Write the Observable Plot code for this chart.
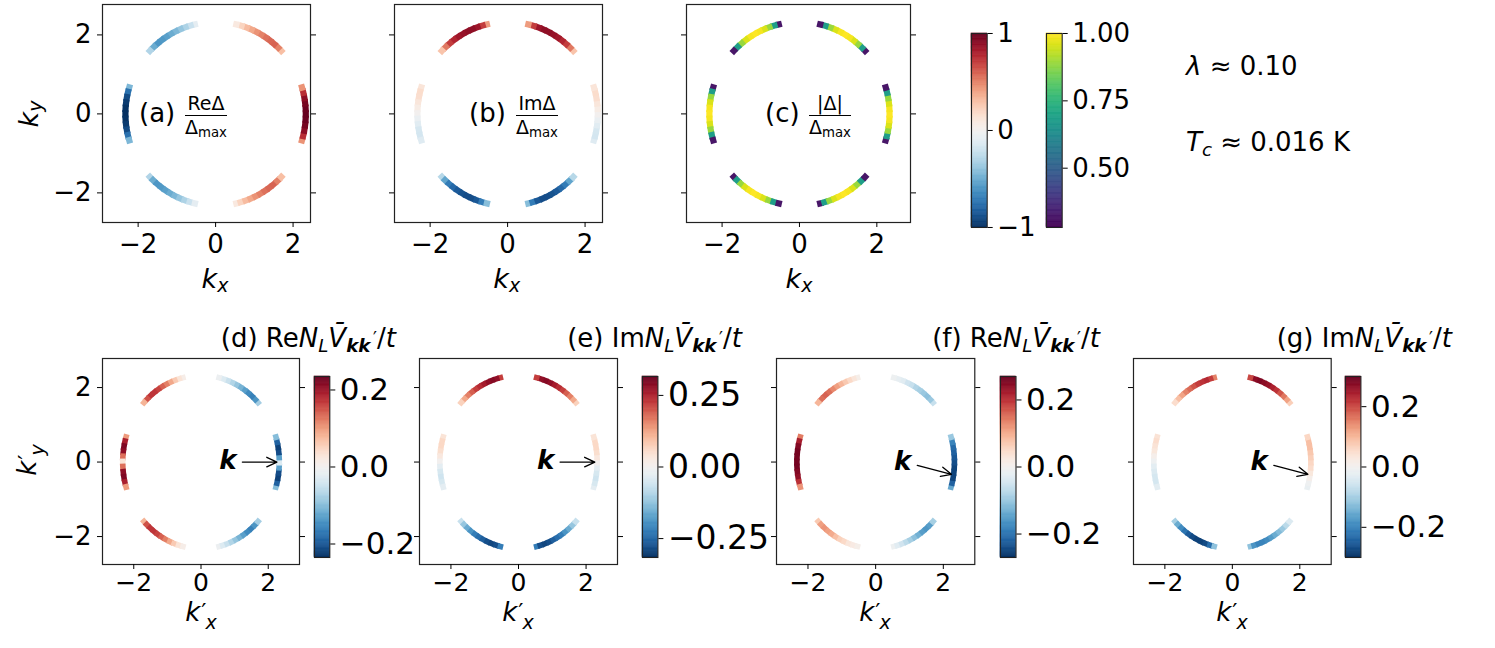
<!DOCTYPE html>
<html><head><meta charset="utf-8">
<script src="https://cdn.jsdelivr.net/npm/d3@7"></script>
<script src="https://cdn.jsdelivr.net/npm/@observablehq/plot@0.6"></script>
<style>
body{margin:0;background:#fff;}
#fig{position:relative;width:1495px;height:648px;overflow:hidden;font-family:"DejaVu Sans",sans-serif;color:#000;background:#fff;}
.abs{position:absolute;white-space:nowrap;line-height:1;}
.abs svg{display:block;overflow:visible;}
sub{font-size:0.7em;vertical-align:-0.25em;line-height:0;}
.pr{font-size:0.95em;vertical-align:0.45em;line-height:0;margin-left:0.16em;}
.frac{position:absolute;display:flex;flex-direction:column;align-items:center;font-size:19px;}
.frac span.n,.frac span.d{line-height:19px;white-space:nowrap;}
.frac span.bar{height:1.3px;background:#000;align-self:stretch;margin:2px 0;}
</style></head><body><div id="fig"></div><script>
// ---------- data ----------
const arcCenters = [0, 60, 120, 180, 240, 300];           // degrees
const sampleOffsets = [-17, -13.6, -10.2, -6.8, -3.4, 0, 3.4, 6.8, 10.2, 13.6, 17];
const fermiRadius = 2.33;
const axisTicks = [-2, 0, 2];

const reDelta = [
  [0.45,0.75,0.90,0.96,0.99,1.00,0.99,0.96,0.90,0.75,0.45],
  [0.30,0.50,0.59,0.58,0.55,0.50,0.45,0.38,0.31,0.21,0.09],
  [-0.09,-0.21,-0.31,-0.38,-0.45,-0.50,-0.55,-0.58,-0.59,-0.50,-0.30],
  [-0.45,-0.75,-0.90,-0.96,-0.99,-1.00,-0.99,-0.96,-0.90,-0.75,-0.45],
  [-0.30,-0.50,-0.59,-0.58,-0.55,-0.50,-0.45,-0.38,-0.31,-0.21,-0.09],
  [0.09,0.21,0.31,0.38,0.45,0.50,0.55,0.58,0.59,0.50,0.30]
];
const imDelta = [
  [-0.12,-0.17,-0.16,-0.11,-0.06,0.00,0.06,0.11,0.16,0.17,0.12],
  [0.28,0.53,0.70,0.78,0.84,0.87,0.89,0.89,0.85,0.70,0.42],
  [0.42,0.70,0.85,0.89,0.89,0.87,0.84,0.78,0.70,0.53,0.28],
  [0.12,0.17,0.16,0.11,0.06,0.00,-0.06,-0.11,-0.16,-0.17,-0.12],
  [-0.28,-0.53,-0.70,-0.78,-0.84,-0.87,-0.89,-0.89,-0.85,-0.70,-0.42],
  [-0.42,-0.70,-0.85,-0.89,-0.89,-0.87,-0.84,-0.78,-0.70,-0.53,-0.28]
];
const absDelta = [
  [0.32,0.68,0.89,0.96,0.99,1.00,0.99,0.96,0.89,0.68,0.32],
  [0.32,0.68,0.89,0.96,0.99,1.00,0.99,0.96,0.89,0.68,0.32],
  [0.32,0.68,0.89,0.96,0.99,1.00,0.99,0.96,0.89,0.68,0.32],
  [0.32,0.68,0.89,0.96,0.99,1.00,0.99,0.96,0.89,0.68,0.32],
  [0.32,0.68,0.89,0.96,0.99,1.00,0.99,0.96,0.89,0.68,0.32],
  [0.32,0.68,0.89,0.96,0.99,1.00,0.99,0.96,0.89,0.68,0.32]
];
const reV_d = [
  [-0.10,-0.19,-0.22,-0.21,-0.13,-0.03,-0.13,-0.21,-0.22,-0.19,-0.10],
  [-0.08,-0.14,-0.16,-0.15,-0.13,-0.11,-0.09,-0.07,-0.05,-0.03,-0.01],
  [0.01,0.03,0.06,0.09,0.12,0.14,0.16,0.17,0.17,0.15,0.08],
  [0.10,0.19,0.22,0.21,0.13,0.03,0.13,0.21,0.22,0.19,0.10],
  [0.08,0.15,0.17,0.17,0.16,0.14,0.12,0.09,0.06,0.03,0.01],
  [-0.01,-0.03,-0.05,-0.07,-0.09,-0.11,-0.13,-0.15,-0.16,-0.14,-0.08]
];
const imV_e = [
  [-0.03,-0.05,-0.06,-0.05,-0.03,0.00,0.03,0.05,0.06,0.06,0.04],
  [0.07,0.12,0.16,0.19,0.22,0.24,0.26,0.28,0.29,0.28,0.22],
  [0.22,0.28,0.29,0.28,0.26,0.24,0.22,0.19,0.16,0.12,0.07],
  [0.04,0.06,0.06,0.05,0.03,0.00,-0.03,-0.05,-0.06,-0.05,-0.03],
  [-0.07,-0.12,-0.16,-0.19,-0.22,-0.24,-0.26,-0.28,-0.29,-0.28,-0.22],
  [-0.22,-0.28,-0.29,-0.28,-0.26,-0.24,-0.22,-0.19,-0.16,-0.12,-0.07]
];
const reV_f = [
  [-0.14,-0.22,-0.25,-0.25,-0.25,-0.24,-0.23,-0.22,-0.21,-0.18,-0.10],
  [-0.06,-0.10,-0.11,-0.10,-0.09,-0.08,-0.06,-0.05,-0.03,-0.02,-0.01],
  [0.01,0.03,0.05,0.07,0.09,0.11,0.13,0.15,0.16,0.15,0.09],
  [0.14,0.22,0.25,0.26,0.26,0.26,0.26,0.25,0.24,0.20,0.12],
  [0.07,0.11,0.12,0.11,0.10,0.08,0.06,0.05,0.03,0.02,0.01],
  [-0.01,-0.03,-0.05,-0.07,-0.09,-0.11,-0.13,-0.15,-0.16,-0.15,-0.09]
];
const imV_g = [
  [-0.02,-0.01,0.01,0.03,0.05,0.06,0.07,0.08,0.09,0.09,0.06],
  [0.07,0.12,0.16,0.19,0.22,0.24,0.26,0.27,0.28,0.27,0.20],
  [0.15,0.21,0.23,0.22,0.21,0.19,0.17,0.15,0.12,0.09,0.05],
  [0.04,0.05,0.04,0.03,0.01,-0.01,-0.03,-0.04,-0.05,-0.05,-0.03],
  [-0.10,-0.15,-0.19,-0.22,-0.25,-0.27,-0.28,-0.28,-0.27,-0.23,-0.12],
  [-0.12,-0.18,-0.20,-0.20,-0.19,-0.17,-0.15,-0.13,-0.11,-0.08,-0.04]
];
const rdbuTicksTop = [-1, 0, 1];
const viridisTicks = [0.5, 0.75, 1.0];
const ticksD = [-0.2, 0, 0.2];
const ticksE = [-0.25, 0, 0.25];
const ticksF = [-0.2, 0, 0.2];
const ticksG = [-0.2, 0, 0.2];

// ---------- helpers ----------
const fig = document.getElementById("fig");
const FONT = "DejaVu Sans";
const minus = "\u2212";
const fmtInt = d => (d < 0 ? minus : "") + Math.abs(d);
const fmtFix = n => d => (d < 0 ? minus : "") + Math.abs(d).toFixed(n);
const blank = () => "";
const rdbu = domain => ({type: "linear", domain, scheme: "RdBu", reverse: true, clamp: true});
const viridis = domain => ({type: "linear", domain, scheme: "viridis", clamp: true});

function place(node, left, top) {
  const d = document.createElement("div");
  d.className = "abs"; d.style.left = left + "px"; d.style.top = top + "px";
  d.appendChild(node); fig.appendChild(d); return d;
}
function label(html, x, y, size, opts = {}) {
  const d = document.createElement("div");
  d.className = "abs"; d.innerHTML = html; d.style.fontSize = size + "px";
  d.style.left = x + "px"; d.style.top = y + "px";
  const ax = opts.anchor === "start" ? "0" : opts.anchor === "end" ? "-100%" : "-50%";
  d.style.transform = `translate(${ax},-50%)` + (opts.rotate ? ` rotate(${opts.rotate}deg)` : "");
  fig.appendChild(d); return d;
}
// k' with prime and subscript, as one SVG text element
function primeLabel(sub, cx, cy, rotate) {
  const s = 26;
  const d = document.createElement("div");
  d.className = "abs"; d.style.left = (cx - 50) + "px"; d.style.top = (cy - 50) + "px";
  d.innerHTML = `<svg width="100" height="100" style="overflow:visible"><g transform="${rotate ? "rotate(-90 50 50)" : ""}">` +
    `<text x="50" y="58" text-anchor="middle" font-family="${FONT}" font-size="${s}">` +
    `<tspan font-style="italic">k</tspan><tspan font-size="23" dx="1" dy="-1">′</tspan>` +
    `<tspan font-size="19" font-style="italic" dx="-1" dy="9">${sub}</tspan></text></g></svg>`;
  fig.appendChild(d);
}
function frac(num, den, left, barY) {
  const d = document.createElement("div");
  d.className = "frac";
  d.innerHTML = `<span class="n">${num}</span><span class="bar"></span><span class="d">${den}</span>`;
  d.style.left = left + "px"; d.style.top = (barY - 21) + "px";
  fig.appendChild(d);
}
function arcRows(values) {
  const rows = [];
  const half = 2.3;
  arcCenters.forEach((c, i) => sampleOffsets.forEach((o, j) => {
    const lo = j === 0 ? 1.7 : half, hi = j === sampleOffsets.length - 1 ? 1.7 : half;
    const a1 = (c + o - lo) * Math.PI / 180, a2 = (c + o + hi) * Math.PI / 180;
    rows.push({x1: fermiRadius * Math.cos(a1), y1: fermiRadius * Math.sin(a1),
               x2: fermiRadius * Math.cos(a2), y2: fermiRadius * Math.sin(a2), v: values[i][j]});
  }));
  return rows;
}
function panel(cfg) {
  const [L, T, R, B] = cfg.frame;
  const ML = 80, MR = 14, MT = 6, MB = 44;
  const marks = [
    Plot.link(arcRows(cfg.values), {x1: "x1", y1: "y1", x2: "x2", y2: "y2", stroke: "v", strokeWidth: cfg.sw}),
    Plot.frame({stroke: "#222", strokeWidth: 1.2}),
    Plot.axisX({ticks: axisTicks, tickSize: 5, tickPadding: cfg.xPad ?? 7, tickFormat: fmtInt, label: null, fontSize: cfg.xFs ?? 26}),
    Plot.axisY({anchor: "left", ticks: axisTicks, tickSize: 5, tickPadding: 6, tickFormat: cfg.yLabels ? fmtInt : blank, label: null, fontSize: 26}),
    Plot.axisY({anchor: "right", ticks: axisTicks, tickSize: 5, tickFormat: blank, label: null})
  ];
  if (cfg.arrow) {
    marks.push(Plot.arrow([cfg.arrow], {x1: "x1", y1: "y1", x2: "x2", y2: "y2", stroke: "#000", strokeWidth: 1.3, headLength: 13, headAngle: 50}));
    marks.push(Plot.text([cfg.arrow], {x: "tx", y: "ty", text: () => "k", textAnchor: "end", lineAnchor: "middle",
      fontSize: 26, fontWeight: "bold", fontStyle: "italic", fill: "#000"}));
  }
  const svg = Plot.plot({
    width: R - L + ML + MR, height: B - T + MT + MB,
    marginLeft: ML, marginRight: MR, marginTop: MT, marginBottom: MB,
    x: {domain: cfg.xDomain, axis: null}, y: {domain: cfg.yDomain, axis: null},
    color: cfg.color,
    style: {background: "transparent", fontFamily: FONT, fontSize: "26px", color: "#000", overflow: "visible"},
    marks
  });
  place(svg, L - ML, T - MT);
}
function colorbar(cfg) {
  const [L, T, R, B] = cfg.frame;
  const ML = 2, MR = 120, MT = 20, MB = 20;
  const [lo, hi] = cfg.color.domain; const N = 160;
  const steps = d3.range(N).map(i => ({a: lo + (hi - lo) * i / N, b: lo + (hi - lo) * (i + 1) / N, m: lo + (hi - lo) * (i + 0.5) / N}));
  const svg = Plot.plot({
    width: R - L + ML + MR, height: B - T + MT + MB,
    marginLeft: ML, marginRight: MR, marginTop: MT, marginBottom: MB,
    x: {domain: [0, 1], axis: null}, y: {domain: [lo, hi], axis: null},
    color: cfg.color,
    style: {background: "transparent", fontFamily: FONT, fontSize: cfg.fs + "px", color: "#000", overflow: "visible"},
    marks: [
      Plot.rect(steps, {x1: () => 0, x2: () => 1, y1: "a", y2: "b", fill: "m", stroke: "m", strokeWidth: 0.6}),
      Plot.frame({stroke: "#222", strokeWidth: 1.1}),
      Plot.axisY({anchor: "right", ticks: cfg.ticks, tickFormat: cfg.fmt, tickSize: 5, tickPadding: 5, label: null, fontSize: cfg.fs})
    ]
  });
  place(svg, L - ML, T - MT);
}

// ---------- top row ----------
const yTop = [-2.75, 2.77];
panel({frame: [102, 4, 310, 222], xDomain: [-2.92, 2.45], yDomain: yTop, values: reDelta, color: rdbu([-1, 1]), sw: 6.2, yLabels: true});
panel({frame: [393.5, 4, 601.5, 222], xDomain: [-2.92, 2.45], yDomain: yTop, values: imDelta, color: rdbu([-1, 1]), sw: 6.2});
panel({frame: [686, 4, 910, 222], xDomain: [-2.92, 2.87], yDomain: yTop, values: absDelta, color: viridis([0.28, 1]), sw: 6.2});
colorbar({frame: [971, 32.7, 986.7, 226.7], color: rdbu([-1, 1]), ticks: rdbuTicksTop, fmt: fmtInt, fs: 26});
colorbar({frame: [1046, 32.7, 1061.7, 226.7], color: viridis([0.28, 1]), ticks: viridisTicks, fmt: fmtFix(2), fs: 26});

// ---------- bottom row ----------
const xBot = [-2.93, 2.93], yBot = [-2.75, 2.78];
const arrowRight = {x1: 1.23, y1: 0, x2: 2.26, y2: 0, tx: 1.06, ty: 0.04};
const arrowLow = {x1: 1.23, y1: -0.09, x2: 2.24, y2: -0.33, tx: 1.05, ty: 0.02};
const bot = {xDomain: xBot, yDomain: yBot, sw: 5.6, xPad: 4, xFs: 25};
panel({...bot, frame: [102, 358, 299, 564], values: reV_d, color: rdbu([-0.235, 0.235]), yLabels: true, arrow: arrowRight});
panel({...bot, frame: [419.3, 358, 617.3, 564], values: imV_e, color: rdbu([-0.316, 0.316]), arrow: arrowRight});
panel({...bot, frame: [776, 358, 974.3, 564], values: reV_f, color: rdbu([-0.27, 0.27]), arrow: arrowLow});
panel({...bot, frame: [1133.3, 358, 1331, 564], values: imV_g, color: rdbu([-0.30, 0.30]), arrow: arrowLow});
colorbar({frame: [313.7, 376, 329, 557], color: rdbu([-0.235, 0.235]), ticks: ticksD, fmt: fmtFix(1), fs: 31});
colorbar({frame: [642.3, 376, 657.7, 557], color: rdbu([-0.316, 0.316]), ticks: ticksE, fmt: fmtFix(2), fs: 33});
colorbar({frame: [999.5, 376, 1015, 557], color: rdbu([-0.27, 0.27]), ticks: ticksF, fmt: fmtFix(1), fs: 31});
colorbar({frame: [1345.3, 376, 1360.7, 557], color: rdbu([-0.30, 0.30]), ticks: ticksG, fmt: fmtFix(1), fs: 31});

// ---------- text ----------
label(`<i>k<sub>y</sub></i>`, 28, 114, 27, {rotate: -90});
[215, 506.7, 799].forEach(x => label(`<i>k<sub>x</sub></i>`, x, 278, 27));
[200.7, 517.7, 875, 1232.3].forEach(x => primeLabel("x", x, 613, false));
primeLabel("y", 28, 460, true);

label("(a)", 139, 113, 26, {anchor: "start"});
frac("Re&Delta;", "&Delta;<sub>max</sub>", 185, 114.5);
label("(b)", 469, 113, 26, {anchor: "start"});
frac("Im&Delta;", "&Delta;<sub>max</sub>", 516, 115);
label("(c)", 765, 113, 26, {anchor: "start"});
frac("|&Delta;|", "&Delta;<sub>max</sub>", 809, 115);

label(`<i>λ</i> ≈ 0.10`, 1186, 66, 26, {anchor: "start"});
label(`<i>T<sub>c</sub></i> ≈ 0.016 K`, 1186, 142, 26, {anchor: "start"});

const vbar = `<i>V\u0304</i><sub><b><i>kk</i></b><span class="pr">′</span></sub>/<i>t</i>`;
label(`(d) Re<i>N<sub>L</sub></i>${vbar}`, 396, 338, 26, {anchor: "end"});
label(`(e) Im<i>N<sub>L</sub></i>${vbar}`, 742, 338, 26, {anchor: "end"});
label(`(f) Re<i>N<sub>L</sub></i>${vbar}`, 1100, 338, 26, {anchor: "end"});
label(`(g) Im<i>N<sub>L</sub></i>${vbar}`, 1452, 338, 26, {anchor: "end"});
</script></body></html>
